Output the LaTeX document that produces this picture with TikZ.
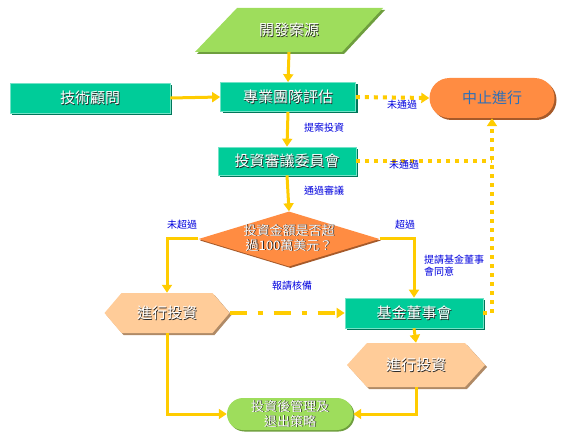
\documentclass[tikz,border=0pt]{standalone}
\usepackage{fontspec}
\newfontfamily\cjk{Noto Sans CJK TC}
\usetikzlibrary{arrows.meta,shapes.geometric,shadows}
\definecolor{teal1}{HTML}{00CC99}
\definecolor{tealdk}{HTML}{00765A}
\definecolor{orng}{HTML}{FF8C42}
\definecolor{orngdk}{HTML}{A65A2A}
\definecolor{grn}{HTML}{9EDD5C}
\definecolor{grndk}{HTML}{6E9E3E}
\definecolor{peach}{HTML}{FFCC99}
\definecolor{peachdk}{HTML}{B08A66}
\definecolor{ylw}{HTML}{FFCC00}
\definecolor{lblue}{HTML}{0000DD}
\definecolor{stopblue}{HTML}{2E6FB7}
\newcommand{\wt}[1]{\rlap{\kern0.9pt\raisebox{-0.9pt}{\color{black!85}#1}}{\color{white}#1}}
\tikzset{
  tealbox/.style={rectangle, fill=teal1, draw=teal1!55!white, line width=0.7pt,
    drop shadow={shadow xshift=2pt, shadow yshift=-2pt, fill=tealdk, opacity=1},
    font=\cjk\fontsize{15}{18}\selectfont, inner sep=0pt},
  holder/.style={rectangle, inner sep=0pt},
  bigtxt/.style={font=\cjk\fontsize{15}{18}\selectfont, inner sep=0pt},
  midtxt/.style={font=\cjk\fontsize{13}{15}\selectfont, inner sep=0pt, align=center},
  conn/.style={draw=ylw, line width=3pt, -{Triangle[length=8pt,width=10pt]}},
  plainconn/.style={draw=ylw, line width=3pt},
  dotconn/.style={conn, line width=4pt, dash pattern=on 4pt off 5pt},
  dotplain/.style={plainconn, line width=4pt, dash pattern=on 4pt off 5pt},
  dashdotconn/.style={conn, line width=3.5pt, dash pattern=on 17pt off 11pt on 5pt off 11pt},
  lbl/.style={text=lblue, font=\cjk\fontsize{10}{12}\selectfont, inner sep=0pt, align=left},
}
\begin{document}
\begin{tikzpicture}[x=1pt,y=-1pt]
\useasboundingbox (0,0) rectangle (563,441);

% source parallelogram
\fill[grndk] (197,54) -- (344,54) -- (385,10) -- (239,10) -- cycle;
\fill[grn] (195,52) -- (342,52) -- (383,8) -- (237,8) -- cycle;
\node[holder, minimum width=146pt, minimum height=44pt] (src) at (289,30) {};
\node[bigtxt] (srct) at (289,30) {\wt{開發案源}};

% teal boxes
\node[tealbox, minimum width=160pt, minimum height=30pt] (tech) at (90,98) {\wt{技術顧問}};
\node[tealbox, minimum width=135pt, minimum height=29pt] (eval) at (288,97) {\wt{專業團隊評估}};
\node[tealbox, minimum width=138pt, minimum height=28pt] (comm) at (287,161) {\wt{投資審議委員會}};
\node[tealbox, minimum width=138pt, minimum height=30pt] (board) at (414,313) {\wt{基金董事會}};

% stop
\node[rectangle, rounded corners=20pt, fill=orng, minimum width=125pt, minimum height=40pt,
  drop shadow={shadow xshift=2pt, shadow yshift=-2pt, fill=orngdk, opacity=1},
  font=\cjk\fontsize{15}{18}\selectfont, text=stopblue] (stop) at (492,98) {中止進行};

% decision diamond
\node[diamond, fill=orng, minimum width=181pt, minimum height=55pt, inner sep=0pt,
  drop shadow={shadow xshift=1.5pt, shadow yshift=-1.5pt, fill=orngdk, opacity=1}] (dia) at (289,239) {};
\node[midtxt] (diat) at (289,238) {\wt{投資金額是否超}\\\wt{過100萬美元？}};

% hexagons
\begin{scope}[shift={(2,2)}]
\fill[peachdk] (104.5,313) -- (121.5,293) -- (212.5,293) -- (229.5,313) -- (212.5,333) -- (121.5,333) -- cycle;
\fill[peachdk] (347,365) -- (367,343) -- (465,343) -- (485,365) -- (465,387) -- (367,387) -- cycle;
\end{scope}
\fill[peach] (104.5,313) -- (121.5,293) -- (212.5,293) -- (229.5,313) -- (212.5,333) -- (121.5,333) -- cycle;
\fill[peach] (347,365) -- (367,343) -- (465,343) -- (485,365) -- (465,387) -- (367,387) -- cycle;
\node[holder, minimum width=125pt, minimum height=40pt] (hexL) at (167,313) {};
\node[bigtxt] (hexLt) at (167,313) {\wt{進行投資}};
\node[holder, minimum width=138pt, minimum height=44pt] (hexR) at (416,365) {};
\node[bigtxt] (hexRt) at (416,365) {\wt{進行投資}};

% final
\node[rectangle, rounded corners=16pt, fill=grn, minimum width=126pt, minimum height=32pt,
  drop shadow={shadow xshift=1.5pt, shadow yshift=-1.5pt, fill=grndk, opacity=1},
  midtxt] (final) at (290,414) {\wt{投資後管理及}\\\wt{退出策略}};

% connectors
\draw[conn] (src.south) -- (eval.north);
\draw[conn] (tech.east) -- (eval.west);
\draw[dotconn] (eval.east) -- (stop.west);
\draw[conn] (eval.south) -- (comm.north);
\draw[conn] (comm.south) -- (dia.north);
\coordinate (vj) at (stop.south |- comm.east);
\draw[dotplain] (comm.east) -- (vj);
\draw[conn] (dia.west) -| (hexL.north);
\draw[conn] (dia.east) -| (board.north);
\draw[dashdotconn] (hexL.east) -- (board.west);
\draw[dotconn] (board.east) -| (stop.south);
\draw[conn] (board.south) -- (hexR.north);
\draw[conn] (hexL.south) |- (final.west);
\draw[conn] (hexR.south) |- (final.east);

% labels
\node[lbl] (l1) at (402,105) {未通過};
\node[lbl] (l2) at (324,128) {提案投資};
\node[lbl] (l3) at (404,165) {未通過};
\node[lbl] (l4) at (324,191) {通過審議};
\node[lbl] (l5) at (182,225) {未超過};
\node[lbl] (l6) at (405,225) {超過};
\node[lbl, anchor=north west] (l7) at (424,255) {提請基金董事\\會同意};
\node[lbl] (l8) at (292,286) {報請核備};
\end{tikzpicture}
\end{document}
